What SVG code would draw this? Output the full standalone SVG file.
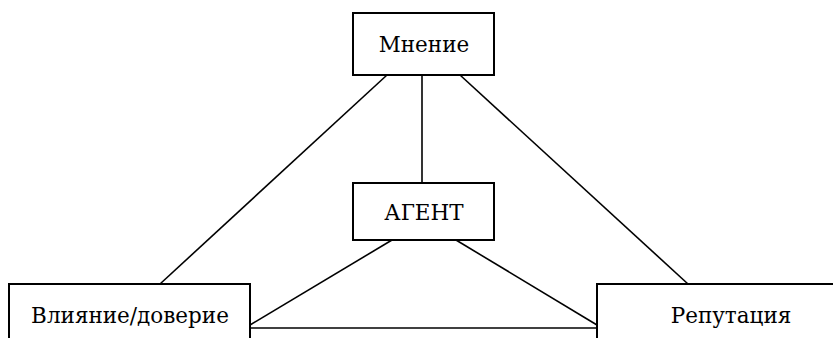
<svg xmlns="http://www.w3.org/2000/svg" width="833" height="338" viewBox="0 0 833 338">
<style>
.box{fill:#fff;stroke:#000;stroke-width:2}
.t{font-family:'DejaVu Serif','Liberation Serif',serif;font-size:21.5px;fill:#000;text-anchor:middle}
.c line{stroke:#000;stroke-width:1.6}
</style>
<rect width="833" height="338" fill="#fff"/>
<g class="c" id="connectors">
<line x1="387" y1="75" x2="160" y2="284"/>
<line x1="422" y1="75" x2="422" y2="183"/>
<line x1="460" y1="75" x2="688" y2="284"/>
<line x1="392" y1="240" x2="250" y2="325"/>
<line x1="456" y1="240" x2="597" y2="325"/>
<line x1="250" y1="328" x2="597" y2="328"/>
</g>
<g id="mnenie"><rect class="box" x="353" y="13" width="141" height="62"/><text class="t" x="424" y="52">Мнение</text></g>
<g id="agent"><rect class="box" x="353" y="183" width="141" height="57"/><text class="t" x="424" y="220">АГЕНТ</text></g>
<g id="vliyanie"><rect class="box" x="9" y="284" width="241" height="60"/><text class="t" x="130" y="323">Влияние/доверие</text></g>
<g id="reputatsiya"><rect class="box" x="597" y="284" width="240" height="60"/><text class="t" x="731" y="323">Репутация</text></g>
</svg>
